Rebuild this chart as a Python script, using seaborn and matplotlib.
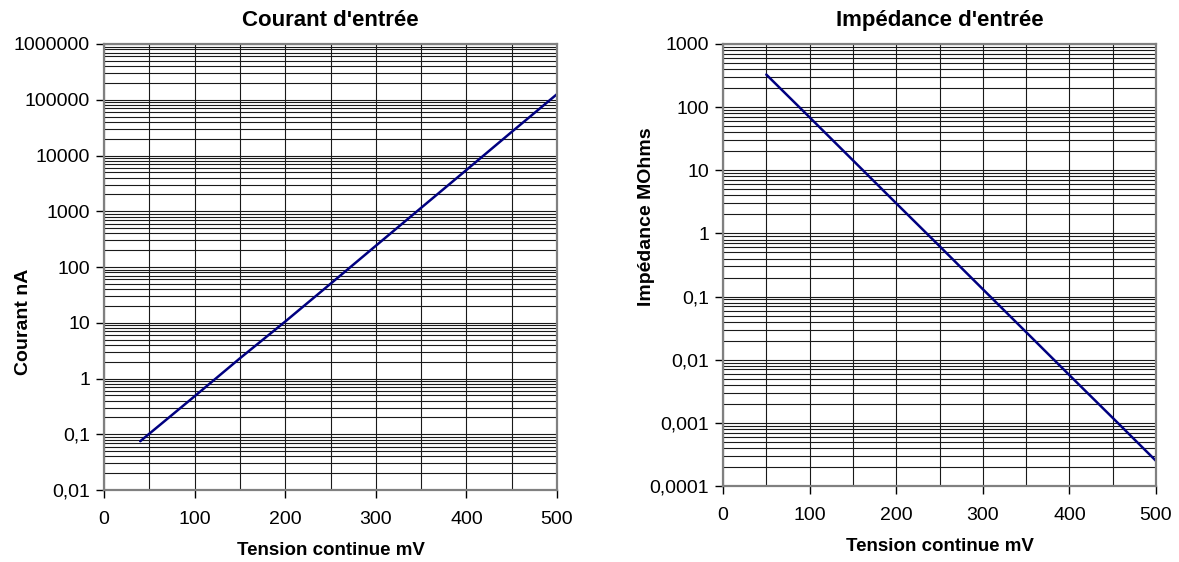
import matplotlib as mpl
import matplotlib.pyplot as plt
from matplotlib.ticker import FixedLocator, FixedFormatter, MultipleLocator, LogLocator, NullFormatter
import seaborn as sns
import numpy as np

# left chart: input current vs DC voltage
courant_mv = [40, 100, 150, 200, 250, 300, 350, 400, 450, 500]
courant_na = [0.075, 0.48, 2.3, 10.5, 50, 240, 1150, 5500, 26500, 126000]

# right chart: input impedance vs DC voltage
imped_mv = [50, 100, 150, 200, 250, 300, 350, 400, 450, 500]
imped_mohm = [328, 69, 14.4, 3.0, 0.63, 0.131, 0.0274, 0.0057, 0.0012, 0.00025]

left_yticks = [0.01, 0.1, 1, 10, 100, 1000, 10000, 100000, 1000000]
left_ylabels = ["0,01", "0,1", "1", "10", "100", "1000", "10000", "100000", "1000000"]
right_yticks = [0.0001, 0.001, 0.01, 0.1, 1, 10, 100, 1000]
right_ylabels = ["0,0001", "0,001", "0,01", "0,1", "1", "10", "100", "1000"]
xticks = [0, 100, 200, 300, 400, 500]

sns.set_style("white")
plt.rcParams['font.family'] = ['Liberation Sans', 'DejaVu Sans']
plt.rcParams['text.color'] = 'black'
plt.rcParams['axes.labelcolor'] = 'black'
plt.rcParams['xtick.color'] = 'black'
plt.rcParams['ytick.color'] = 'black'

W, H = 1179, 562
f = plt.figure(figsize=(W / 100, H / 100), dpi=100)
axL = f.add_axes([104 / W, 1 - 490 / H, (557 - 104) / W, (490 - 44) / H])
axR = f.add_axes([723 / W, 1 - 486 / H, (1156 - 723) / W, (486 - 44) / H])

line_color = '#000080'

def style_axis(ax, yticks, ylabels, ylim, title, ylabel, ylabel_y):
  ax.set_yscale('log')
  ax.set_xlim(0, 500)
  ax.set_ylim(*ylim)
  ax.xaxis.set_major_locator(FixedLocator(xticks))
  ax.xaxis.set_minor_locator(MultipleLocator(50))
  ax.yaxis.set_major_locator(FixedLocator(yticks))
  ax.yaxis.set_major_formatter(FixedFormatter(ylabels))
  ax.yaxis.set_minor_locator(LogLocator(base=10, subs=np.arange(2, 10), numticks=30))
  ax.yaxis.set_minor_formatter(NullFormatter())
  ax.grid(True, which='both', color='#1a1a1a', linewidth=0.8)
  ax.set_axisbelow(True)
  ax.tick_params(axis='both', which='major', direction='out', length=6, width=1,
                 color='black', labelcolor='black', labelsize=14, left=True, bottom=True)
  ax.tick_params(axis='x', which='major', pad=9)
  ax.tick_params(axis='y', which='major', pad=4)
  ax.tick_params(which='minor', length=0)
  for s in ax.spines.values():
    s.set_color('#808080')
    s.set_linewidth(1.6)
  ax.set_title(title, fontsize=16, fontweight='bold', pad=13, color='black')
  ax.set_xlabel('Tension continue mV', fontsize=13.5, fontweight='bold', labelpad=10)
  ax.set_ylabel(ylabel, fontsize=14, fontweight='bold', va='center')
  ax.yaxis.set_label_coords(-0.177, ylabel_y)

sns.lineplot(x=courant_mv, y=courant_na, ax=axL, color=line_color, linewidth=1.8)
style_axis(axL, left_yticks, left_ylabels, (0.01, 1000000), "Courant d'entrée", 'Courant nA', 0.377)

sns.lineplot(x=imped_mv, y=imped_mohm, ax=axR, color=line_color, linewidth=1.8)
style_axis(axR, right_yticks, right_ylabels, (0.0001, 1000), "Impédance d'entrée", 'Impédance MOhms', 0.61)

plt.savefig('out.png', dpi=100)
